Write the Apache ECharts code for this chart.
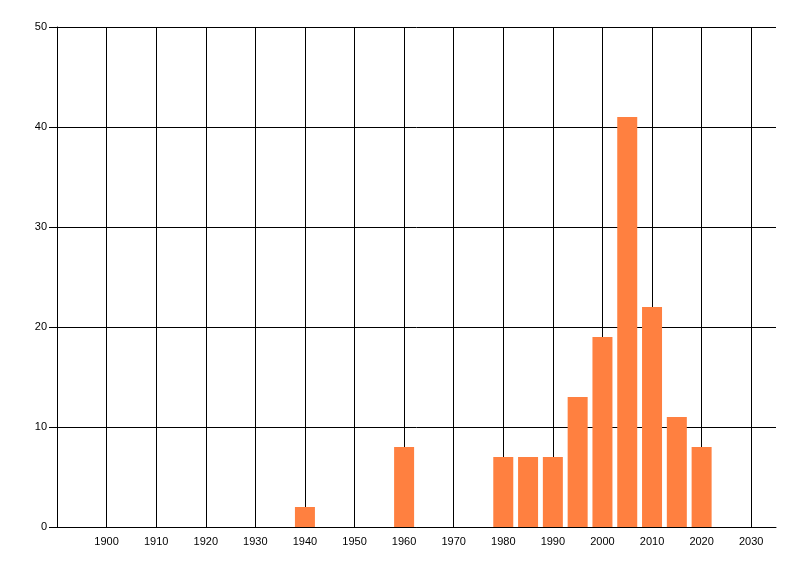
<!DOCTYPE html>
<html><head><meta charset="utf-8">
<script src="https://cdn.jsdelivr.net/npm/echarts@6/dist/echarts.min.js"></script>
<style>html,body{margin:0;padding:0;background:#fff}#c{width:800px;height:576px}</style>
</head><body><div id="c"></div>
<script>
var years = [1940, 1960, 1980, 1985, 1990, 1995, 2000, 2005, 2010, 2015, 2020];
var counts = [2, 8, 7, 7, 7, 13, 19, 41, 22, 11, 8];
var chart = echarts.init(document.getElementById('c'), null, {renderer: 'canvas'});
var font = {fontFamily: 'Liberation Sans, DejaVu Sans, sans-serif', fontSize: 11, color: '#000'};
chart.setOption({
  animation: false,
  backgroundColor: '#fff',
  grid: {left: 57, top: 27, right: 24, bottom: 49, containLabel: false},
  xAxis: {
    type: 'value', min: 1890, max: 2035, interval: 10,
    axisLine: {show: true, lineStyle: {color: '#000', width: 1}},
    axisTick: {show: false},
    splitLine: {show: true, showMaxLine: false, lineStyle: {color: '#000', width: 1}},
    axisLabel: Object.assign({margin: 9, showMinLabel: false, showMaxLabel: false,
      formatter: function(v){ return (v === 1890 || v === 2035) ? '' : String(v); }}, font)
  },
  yAxis: {
    type: 'value', min: 0, max: 50, interval: 10,
    axisLine: {show: true, lineStyle: {color: '#000', width: 1}},
    axisTick: {show: true, length: 8, lineStyle: {color: '#000'}},
    splitLine: {show: true, lineStyle: {color: '#000', width: 1}},
    axisLabel: Object.assign({margin: 10}, font)
  },
  series: [{
    type: 'bar',
    barWidth: 20,
    itemStyle: {color: '#FF8040'},
    data: years.map(function(y, i){ return [y, counts[i]]; })
  }]
});
</script></body></html>
